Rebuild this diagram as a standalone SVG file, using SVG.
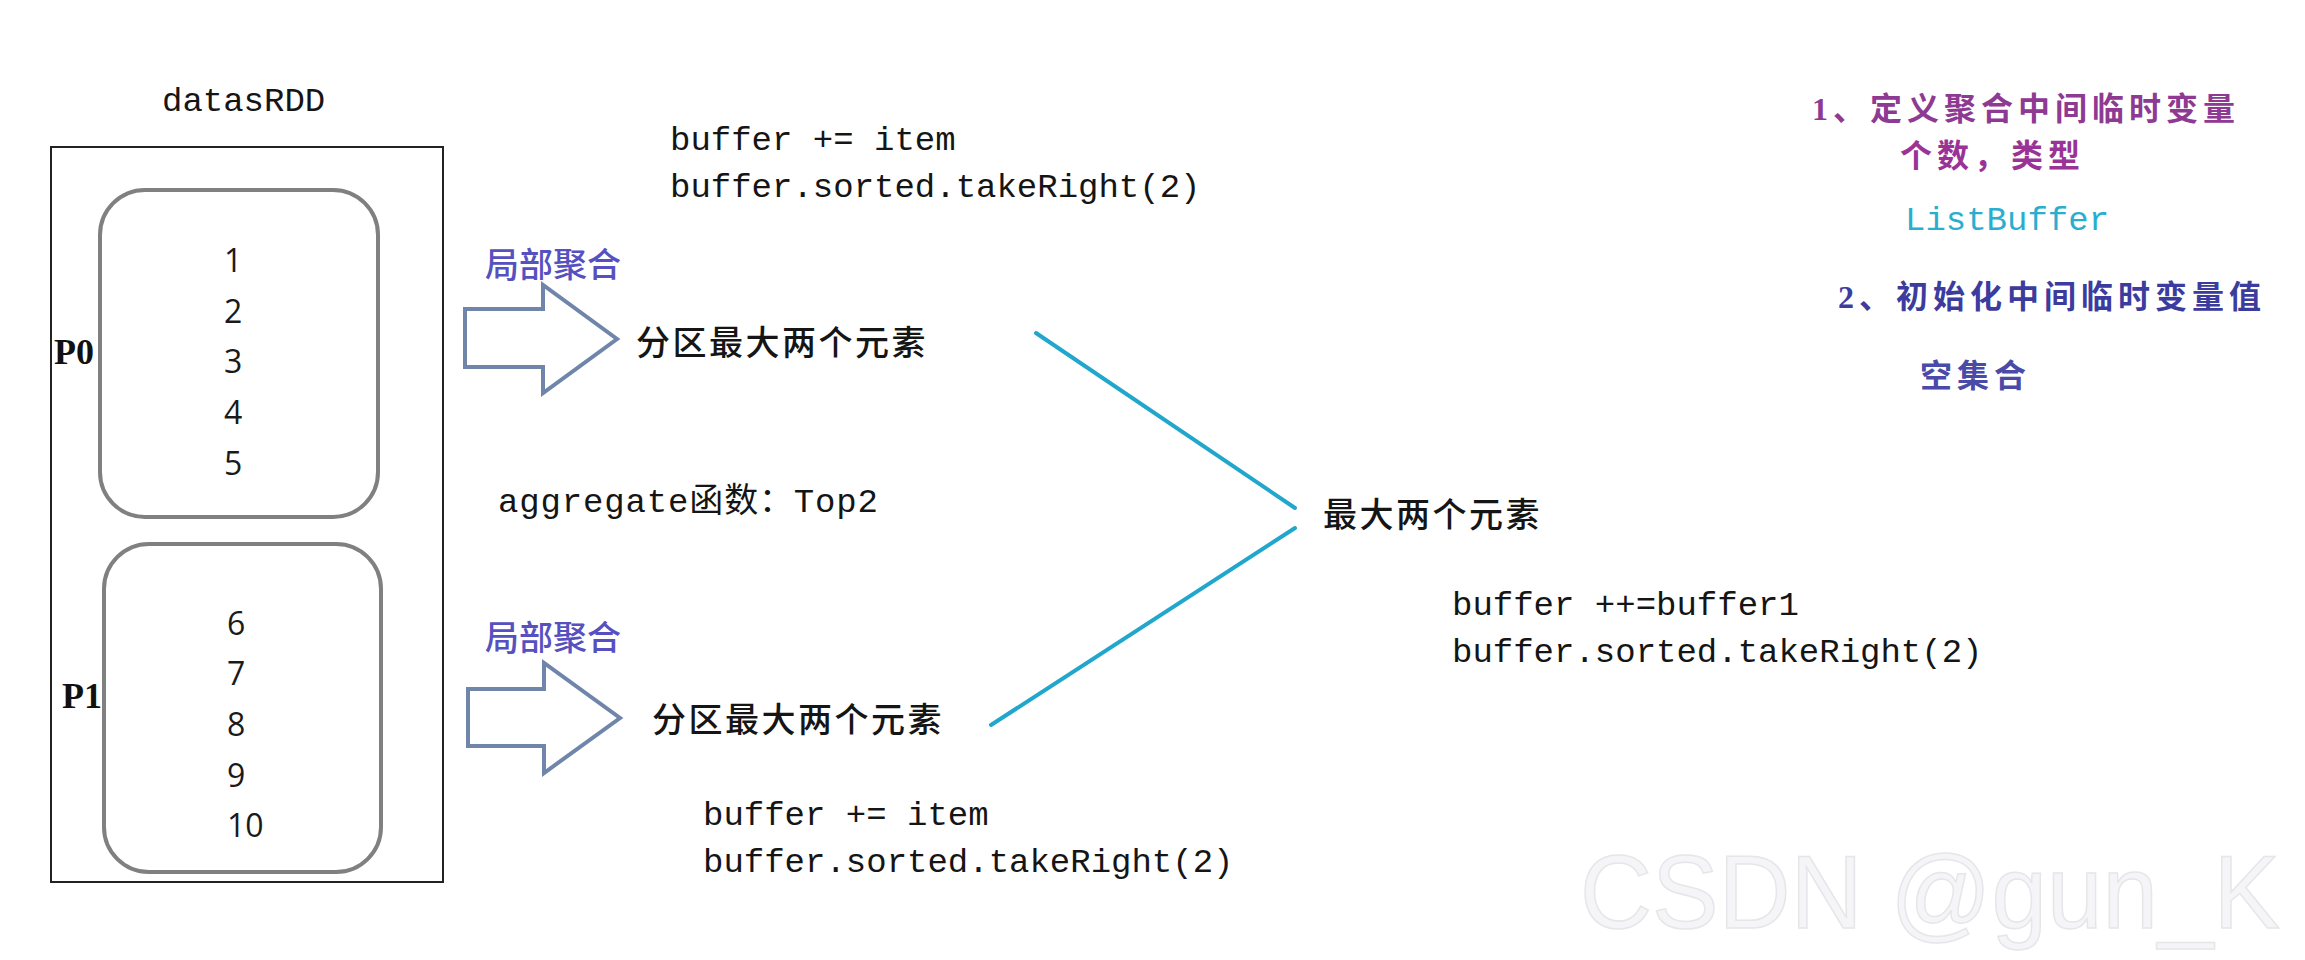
<svg xmlns="http://www.w3.org/2000/svg" width="2305" height="960" viewBox="0 0 2305 960">
<style>
.mono{font-family:"Liberation Mono","Noto Sans CJK SC",monospace;font-size:34px;fill:#151515}
.cjk{font-family:"Noto Sans CJK SC",sans-serif;font-size:34px;font-weight:500;fill:#151515;letter-spacing:2.5px}
.num{font-family:"Open Sans","DejaVu Sans",sans-serif;font-size:32px;fill:#1a1a1a}
.plabel{font-family:"Liberation Serif",serif;font-size:36px;font-weight:bold;fill:#111}
.part{fill:none;stroke:#808080;stroke-width:4}
.barrow{fill:#fff;stroke:#6f86aa;stroke-width:4;stroke-linejoin:miter}
.blue{font-family:"Noto Sans CJK SC",sans-serif;font-size:34px;font-weight:500;fill:#5650c0}
.note{font-family:"Liberation Serif","Noto Sans CJK SC",sans-serif;font-size:32px;font-weight:bold;letter-spacing:5px}
.link{stroke:#21a6cc;stroke-width:4;fill:none;stroke-linecap:round}
</style>
<rect width="2305" height="960" fill="#ffffff"/>

<g id="datasRDD">
<text class="mono" x="162" y="111">datasRDD</text>
<rect x="51" y="147" width="392" height="735" fill="none" stroke="#222" stroke-width="2"/>
</g>

<g id="P0">
<rect class="part" x="100" y="190" width="278" height="327" rx="45"/>
<text class="plabel" x="54" y="364">P0</text>
<text class="num" x="224" y="272">1</text>
<text class="num" x="224" y="323">2</text>
<text class="num" x="224" y="373">3</text>
<text class="num" x="224" y="424">4</text>
<text class="num" x="224" y="475">5</text>
</g>

<g id="P1">
<rect class="part" x="104" y="544" width="277" height="328" rx="45"/>
<text class="plabel" x="62" y="708">P1</text>
<text class="num" x="227" y="635">6</text>
<text class="num" x="227" y="685">7</text>
<text class="num" x="227" y="736">8</text>
<text class="num" x="227" y="787">9</text>
<text class="num" x="227" y="837">10</text>
</g>

<g id="code-top">
<text class="mono" x="670" y="150">buffer += item</text>
<text class="mono" x="670" y="197">buffer.sorted.takeRight(2)</text>
</g>

<g id="arrow-top">
<text class="blue" x="485" y="277">局部聚合</text>
<polygon class="barrow" points="465,309 543,309 543,285 617,339 543,393 543,367 465,367"/>
</g>

<g id="partmax-top">
<text class="cjk" x="636" y="355">分区最大两个元素</text>
</g>

<g id="aggregate-label">
<text class="mono" x="498" y="512" textLength="380">aggregate函数：Top2</text>
</g>

<g id="arrow-bottom">
<text class="blue" x="485" y="650">局部聚合</text>
<polygon class="barrow" points="468,689 544,689 544,663 620,718 544,773 544,746 468,746"/>
</g>

<g id="partmax-bottom">
<text class="cjk" x="652" y="732">分区最大两个元素</text>
</g>

<g id="code-bottom">
<text class="mono" x="703" y="825">buffer += item</text>
<text class="mono" x="703" y="872">buffer.sorted.takeRight(2)</text>
</g>

<g id="result">
<text class="cjk" x="1323" y="527">最大两个元素</text>
</g>

<g id="code-merge">
<text class="mono" x="1452" y="615">buffer ++=buffer1</text>
<text class="mono" x="1452" y="662">buffer.sorted.takeRight(2)</text>
</g>

<g id="notes">
<text class="note" x="1812" y="120" fill="#8e3a92">1、定义聚合中间临时变量</text>
<text class="note" x="1900" y="167" fill="#9a3396">个数，类型</text>
<text class="mono" x="1905" y="230" style="fill:#2aaecf">ListBuffer</text>
<text class="note" x="1838" y="308" fill="#3c3c9e">2、初始化中间临时变量值</text>
<text class="note" x="1920" y="387" fill="#4a4aa8">空集合</text>
</g>

<g id="connectors">
<line class="link" x1="1036" y1="333" x2="1295" y2="508"/>
<line class="link" x1="1295" y1="528" x2="991" y2="725"/>
</g>

<g id="watermark">
<text x="1580" y="928" textLength="700" lengthAdjust="spacingAndGlyphs" style="font-family:'Liberation Sans',sans-serif;font-size:104px;fill:#f5f5f7;stroke:#e6e6ea;stroke-width:1.5">CSDN @gun_K</text>
</g>
</svg>
